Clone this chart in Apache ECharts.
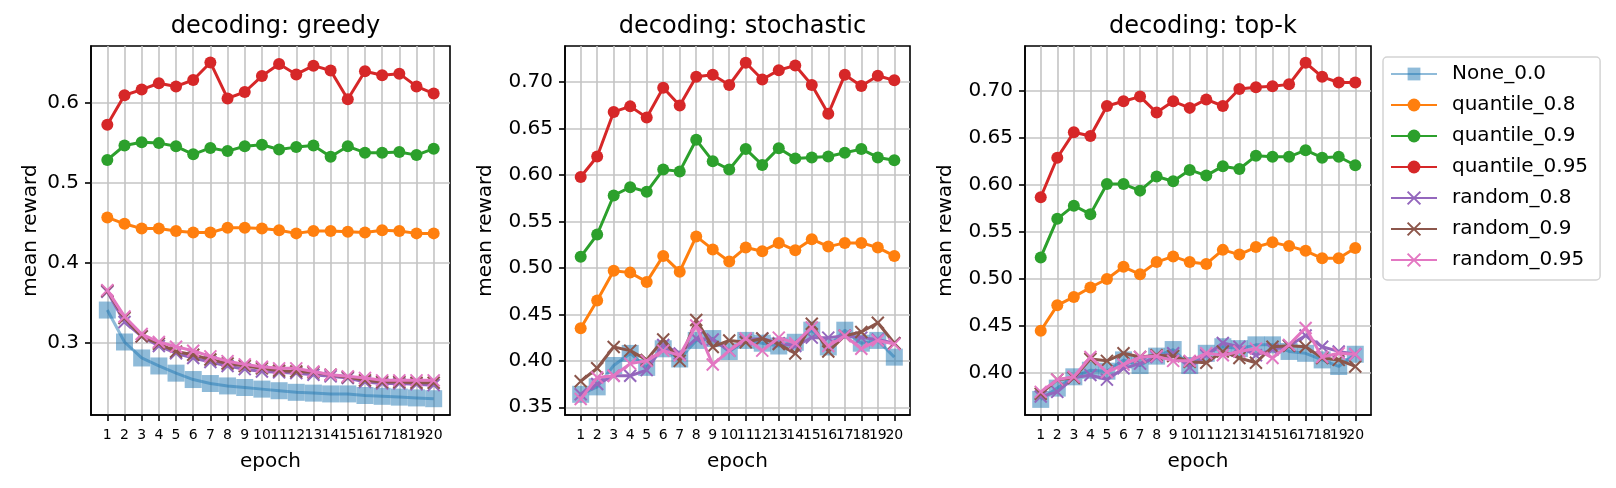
<!DOCTYPE html>
<html>
<head>
<meta charset="utf-8">
<script src="https://cdn.jsdelivr.net/npm/echarts@6/dist/echarts.min.js"></script>
<style>
html, body { margin: 0; padding: 0; background: #fff; }
#main { width: 1616px; height: 488px; }
</style>
</head>
<body>
<div id="main"></div>
<script>
var myChart = echarts.init(document.getElementById('main'));

var epochs = [1,2,3,4,5,6,7,8,9,10,11,12,13,14,15,16,17,18,19,20];
var oddEpochs = [1,3,5,7,9,11,13,15,17,19];
var evenEpochs = [2,4,6,8,10,12,14,16,18,20];
var names = ['None_0.0','quantile_0.8','quantile_0.9','quantile_0.95','random_0.8','random_0.9','random_0.95'];
var titles = ['decoding: greedy','decoding: stochastic','decoding: top-k'];

// greedy
var greedyNone = [0.341,0.301,0.281,0.271,0.262,0.254,0.249,0.246,0.244,0.242,0.240,0.238,0.237,0.236,0.236,0.234,0.233,0.232,0.231,0.230];
var greedyQ08  = [0.457,0.449,0.443,0.443,0.440,0.438,0.438,0.444,0.444,0.443,0.441,0.437,0.440,0.440,0.439,0.438,0.441,0.440,0.437,0.437];
var greedyQ09  = [0.529,0.547,0.551,0.550,0.546,0.536,0.544,0.540,0.546,0.548,0.542,0.545,0.547,0.533,0.546,0.538,0.538,0.539,0.535,0.543];
var greedyQ095 = [0.573,0.610,0.617,0.625,0.621,0.629,0.651,0.606,0.614,0.634,0.649,0.636,0.647,0.641,0.605,0.640,0.635,0.637,0.621,0.612];
var greedyR08  = [0.364,0.326,0.308,0.296,0.287,0.281,0.276,0.271,0.267,0.264,0.263,0.262,0.260,0.258,0.256,0.251,0.249,0.249,0.248,0.247];
var greedyR09  = [0.365,0.331,0.308,0.299,0.289,0.285,0.279,0.274,0.271,0.268,0.265,0.264,0.263,0.260,0.257,0.253,0.251,0.251,0.250,0.250];
var greedyR095 = [0.366,0.333,0.311,0.301,0.295,0.290,0.283,0.277,0.273,0.270,0.268,0.268,0.264,0.260,0.258,0.256,0.253,0.253,0.253,0.253];

// stochastic
var stochNone = [0.364,0.372,0.395,0.408,0.393,0.413,0.402,0.422,0.424,0.410,0.422,0.419,0.416,0.420,0.433,0.415,0.433,0.419,0.422,0.404];
var stochQ08  = [0.435,0.465,0.497,0.495,0.485,0.513,0.496,0.534,0.520,0.507,0.522,0.518,0.527,0.519,0.531,0.523,0.527,0.527,0.522,0.513];
var stochQ09  = [0.512,0.536,0.578,0.587,0.582,0.606,0.604,0.638,0.615,0.606,0.628,0.611,0.629,0.618,0.619,0.620,0.624,0.628,0.619,0.616];
var stochQ095 = [0.598,0.620,0.668,0.674,0.662,0.694,0.675,0.706,0.708,0.697,0.721,0.703,0.713,0.718,0.697,0.666,0.708,0.696,0.707,0.702];
var stochR08  = [0.364,0.375,0.384,0.384,0.390,0.417,0.408,0.424,0.423,0.411,0.423,0.424,0.419,0.416,0.425,0.425,0.427,0.425,0.423,0.419];
var stochR09  = [0.378,0.392,0.415,0.411,0.401,0.423,0.400,0.444,0.415,0.422,0.420,0.424,0.418,0.408,0.440,0.410,0.427,0.431,0.441,0.419];
var stochR095 = [0.359,0.382,0.384,0.397,0.400,0.411,0.406,0.438,0.396,0.411,0.424,0.411,0.425,0.419,0.436,0.416,0.427,0.413,0.422,0.418];

// top-k
var topkNone = [0.372,0.384,0.396,0.403,0.402,0.414,0.408,0.418,0.425,0.408,0.421,0.428,0.426,0.430,0.430,0.423,0.421,0.414,0.407,0.420];
var topkQ08  = [0.445,0.472,0.481,0.491,0.500,0.513,0.505,0.518,0.524,0.518,0.516,0.531,0.526,0.534,0.539,0.535,0.530,0.522,0.522,0.533];
var topkQ09  = [0.523,0.564,0.578,0.569,0.601,0.601,0.594,0.609,0.604,0.616,0.610,0.620,0.617,0.631,0.630,0.630,0.637,0.629,0.630,0.621];
var topkQ095 = [0.587,0.629,0.656,0.652,0.684,0.689,0.694,0.677,0.689,0.682,0.691,0.684,0.702,0.704,0.705,0.707,0.730,0.715,0.709,0.709];
var topkR08  = [0.375,0.380,0.395,0.398,0.393,0.405,0.410,0.417,0.421,0.406,0.419,0.432,0.428,0.419,0.425,0.429,0.440,0.428,0.423,0.420];
var topkR09  = [0.378,0.393,0.395,0.415,0.413,0.421,0.417,0.419,0.418,0.412,0.411,0.423,0.416,0.411,0.428,0.429,0.428,0.416,0.414,0.407];
var topkR095 = [0.380,0.393,0.396,0.417,0.401,0.409,0.417,0.418,0.413,0.413,0.421,0.419,0.423,0.426,0.416,0.430,0.448,0.417,0.421,0.420];

var yTicks1 = [0.3, 0.4, 0.5, 0.6];
var yTicks2 = [0.35, 0.40, 0.45, 0.50, 0.55, 0.60, 0.65, 0.70];
var yTicks3 = [0.40, 0.45, 0.50, 0.55, 0.60, 0.65, 0.70];

var panels = [
  [greedyNone, greedyQ08, greedyQ09, greedyQ095, greedyR08, greedyR09, greedyR095],
  [stochNone, stochQ08, stochQ09, stochQ095, stochR08, stochR09, stochR095],
  [topkNone, topkQ08, topkQ09, topkQ095, topkR08, topkR09, topkR095]
];

var colors = ['#1f77b4','#ff7f0e','#2ca02c','#d62728','#9467bd','#8c564b','#e377c2'];
var crossPath = 'path://M0,0L10,10M10,0L0,10';
var font = 'DejaVu Sans';

// layout (pixels)
var gridBoxes = [
  {left: 91, width: 359, top: 46, height: 369},
  {left: 565, width: 345, top: 46, height: 369},
  {left: 1025, width: 346, top: 46, height: 369}
];
var yRanges = [[0.2096, 0.6716], [0.3417, 0.739], [0.3554, 0.7478]];
var yTickSets = [yTicks1, yTicks2, yTicks3];
var yDigits = [1, 2, 2];
var yNameGaps = [50, 69, 69];

var grids = [], xAxes = [], extraX = [], yAxes = [], titleList = [], series = [];
var xLabelStyle = {fontFamily: font, fontSize: 14, color: '#000', margin: 13};

for (var p = 0; p < 3; p++) {
  var g = gridBoxes[p];
  grids.push({left: g.left, top: g.top, width: g.width, height: g.height,
    show: true, borderColor: '#000', borderWidth: 1.6, backgroundColor: '#fff', containLabel: false});
  titleList.push({text: titles[p], left: g.left + g.width / 2, top: 10, textAlign: 'center',
    textStyle: {fontFamily: font, fontSize: 24, fontWeight: 'normal', color: '#000'}});
  // main x axis: all ticks + grid, even labels
  xAxes.push({
    type: 'value', gridIndex: p, min: 0.05, max: 20.95,
    name: 'epoch', nameLocation: 'middle', nameGap: 37,
    nameTextStyle: {fontFamily: font, fontSize: 20, color: '#000'},
    axisLine: {show: true, lineStyle: {color: '#000', width: 1.6}},
    axisTick: {show: true, length: 6, lineStyle: {color: '#000', width: 1.6}, customValues: epochs},
    axisLabel: Object.assign({customValues: evenEpochs, showMinLabel: true, showMaxLabel: true}, xLabelStyle),
    splitLine: {show: true, lineStyle: {color: '#c4c4c4', width: 1.6}}
  });
  // overlay axis carrying the odd labels so touching labels are not dropped
  extraX.push({
    type: 'value', gridIndex: p, min: 0.05, max: 20.95, position: 'bottom',
    axisLine: {show: false}, axisTick: {show: false}, splitLine: {show: false},
    axisLabel: Object.assign({customValues: oddEpochs, showMinLabel: true, showMaxLabel: true}, xLabelStyle)
  });
  (function (d) {
    yAxes.push({
      type: 'value', gridIndex: p, min: yRanges[p][0], max: yRanges[p][1],
      name: 'mean reward', nameLocation: 'middle', nameGap: yNameGaps[p],
      nameTextStyle: {fontFamily: font, fontSize: 20, color: '#000'},
      axisLine: {show: true, lineStyle: {color: '#000', width: 1.6}},
      axisTick: {show: true, length: 6, lineStyle: {color: '#000', width: 1.6}, customValues: yTickSets[p]},
      axisLabel: {customValues: yTickSets[p], showMinLabel: true, showMaxLabel: true,
        fontFamily: font, fontSize: 20, color: '#000', margin: 12,
        formatter: function (v) { return v.toFixed(d); }},
      splitLine: {show: true, lineStyle: {color: '#c4c4c4', width: 1.6}}
    });
  })(yDigits[p]);

  for (var s = 0; s < names.length; s++) {
    var vals = panels[p][s];
    var pts = epochs.map(function (e, i) { return [e, vals[i]]; });
    var ser = {
      name: names[s], type: 'line', xAxisIndex: p, yAxisIndex: p, data: pts,
      color: colors[s], animation: false, z: 2 + s,
      lineStyle: {width: 3, color: colors[s]},
      emphasis: {disabled: true}
    };
    if (s === 0) {
      ser.symbol = 'rect'; ser.symbolSize = 17;
      ser.itemStyle = {color: colors[s], opacity: 0.5};
      ser.lineStyle.opacity = 0.5;
    } else if (s < 4) {
      ser.symbol = 'circle'; ser.symbolSize = 12;
      ser.itemStyle = {color: colors[s]};
    } else {
      ser.symbol = crossPath; ser.symbolSize = 12;
      ser.itemStyle = {color: colors[s], borderColor: colors[s], borderWidth: 2};
    }
    series.push(ser);
  }
}

var option = {
  backgroundColor: '#fff',
  animation: false,
  title: titleList,
  grid: grids,
  xAxis: xAxes.concat(extraX),
  yAxis: yAxes,
  legend: {
    data: names, orient: 'vertical', left: 1383, top: 57,
    padding: [7, 12, 10, 7], itemGap: 11, itemWidth: 46, itemHeight: 16,
    backgroundColor: 'rgba(255,255,255,0.8)', borderColor: '#d4d4d4', borderWidth: 1.5, borderRadius: 4,
    textStyle: {fontFamily: font, fontSize: 20, color: '#000', lineHeight: 20, padding: [0, 0, 0, 10]},
    selectedMode: false
  },
  series: series
};

myChart.setOption(option);
</script>
</body>
</html>
